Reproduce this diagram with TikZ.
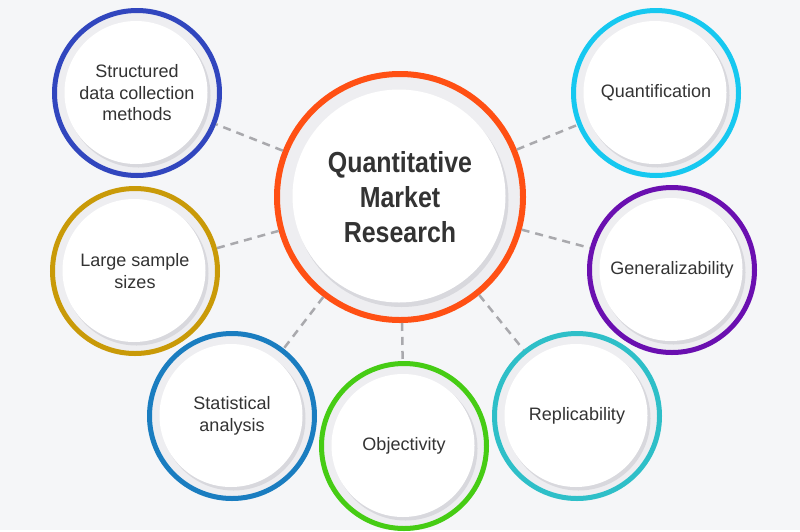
\documentclass[tikz,border=0pt]{standalone}
\usepackage{fontspec}
\usepackage{tikz}
\usetikzlibrary{positioning,calc}
\newfontfamily\topicfont{Liberation Sans}
\newfontfamily\corefont[FakeStretch=0.86]{Liberation Sans}
\definecolor{bggray}{HTML}{F5F6F8}
\definecolor{bandgray}{HTML}{EEEEF1}
\definecolor{shadegray}{HTML}{D8D8DD}
\definecolor{dashgray}{HTML}{A9A9AD}
\definecolor{textgray}{HTML}{333333}
\definecolor{coreorange}{HTML}{FF5014}
\definecolor{structblue}{HTML}{3146BE}
\definecolor{quantcyan}{HTML}{16C8F0}
\definecolor{genpurple}{HTML}{6A0FB0}
\definecolor{largegold}{HTML}{C99A08}
\definecolor{statblue}{HTML}{1A7DC0}
\definecolor{objgreen}{HTML}{46CC14}
\definecolor{replteal}{HTML}{2EBFC8}
\tikzstyle{link} = [draw,dashgray,line width=2.5pt,dash pattern=on 8pt off 6pt]

\begin{document}
\begin{tikzpicture}[x=1pt,y=-1pt,
            topic/.style = {circle, draw=#1, line width=5pt,
              minimum size=165pt, inner sep=0pt, fill=bandgray,
              align=center, text=textgray,
              font=\topicfont\fontsize{18}{21.5}\selectfont,
              path picture={
                \fill[shadegray] ([shift={(1.5pt,-2.5pt)}]path picture bounding box.center) circle (72pt);
                \fill[white] ([shift={(-1pt,0.5pt)}]path picture bounding box.center) circle (71.5pt);}},
            hub/.style = {circle, draw=coreorange, line width=6pt,
              minimum size=246pt, inner sep=0pt, fill=bandgray,
              align=center, text=textgray,
              font=\corefont\bfseries\fontsize{29}{35}\selectfont,
              path picture={
                \fill[shadegray] ([shift={(1.5pt,-3pt)}]path picture bounding box.center) circle (107pt);
                \fill[white] ([shift={(-1pt,1pt)}]path picture bounding box.center) circle (106.5pt);}}]
            \fill[bggray] (0,0) rectangle (800,530);
            \node[hub] (core) at (400,197) {Quantitative\\Market\\Research};
            \node[topic=structblue] (topic1) at (137,93) {Structured\\data collection\\methods};
            \node[topic=quantcyan] (topic2) at (656,93) {Quantification};
            \node[topic=genpurple] (topic3) at (672,270) {Generalizability};
            \node[topic=largegold] (topic4) at (135,271) {Large sample\\sizes};
            \node[topic=statblue] (topic5) at (232,416) {Statistical\\analysis};
            \node[topic=objgreen] (topic6) at (404,446) {Objectivity};
            \node[topic=replteal] (topic7) at (577,416) {Replicability};
            \path [link] (core) -- (topic1);
            \path [link] (core) -- (topic2);
            \path [link] (core) -- (topic3);
            \path [link] (core) -- (topic4);
            \path [link] (core) -- (topic5);
            \path [link] (core) -- (topic6);
            \path [link] (core) -- (topic7);
\end{tikzpicture}
\end{document}
